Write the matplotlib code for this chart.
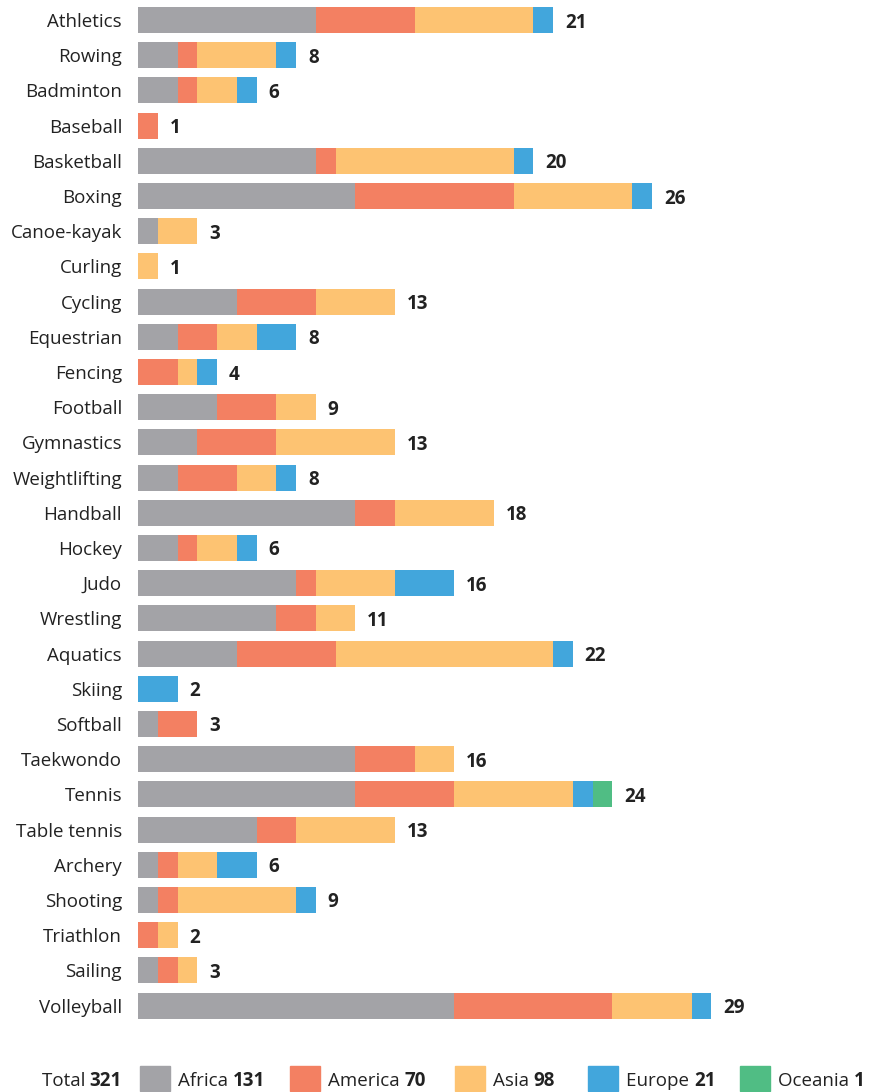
import matplotlib
matplotlib.use("Agg")
import matplotlib.pyplot as plt
from matplotlib.patches import Rectangle
import numpy as np

sports = ["Athletics", "Rowing", "Badminton", "Baseball", "Basketball", "Boxing",
          "Canoe-kayak", "Curling", "Cycling", "Equestrian", "Fencing", "Football",
          "Gymnastics", "Weightlifting", "Handball", "Hockey", "Judo", "Wrestling",
          "Aquatics", "Skiing", "Softball", "Taekwondo", "Tennis", "Table tennis",
          "Archery", "Shooting", "Triathlon", "Sailing", "Volleyball"]
africa  = [9, 2, 2, 0, 9, 11, 1, 0, 5, 2, 0, 4, 3, 2, 11, 2, 8, 7, 5, 0, 1, 11, 11, 6, 1, 1, 0, 1, 16]
america = [5, 1, 1, 1, 1, 8, 0, 0, 4, 2, 2, 3, 4, 3, 2, 1, 1, 2, 5, 0, 2, 3, 5, 2, 1, 1, 1, 1, 8]
asia    = [6, 4, 2, 0, 9, 6, 2, 1, 4, 2, 1, 2, 6, 2, 5, 2, 4, 2, 11, 0, 0, 2, 6, 5, 2, 6, 1, 1, 4]
europe  = [1, 1, 1, 0, 1, 1, 0, 0, 0, 2, 1, 0, 0, 1, 0, 1, 3, 0, 1, 2, 0, 0, 1, 0, 2, 1, 0, 0, 1]
oceania = [0, 0, 0, 0, 0, 0, 0, 0, 0, 0, 0, 0, 0, 0, 0, 0, 0, 0, 0, 0, 0, 0, 1, 0, 0, 0, 0, 0, 0]
regions = ["Africa", "America", "Asia", "Europe", "Oceania"]
colors = ["#a3a3a7", "#f38062", "#fdc372", "#42a6dc", "#50bd84"]

plt.rcParams['font.family'] = ['Open Sans', 'DejaVu Sans']
FS = 13.5
TXT = "#222222"

W, H = 877, 1092
fig = plt.figure(figsize=(W / 100, H / 100), dpi=100)
ax_left = 138 / W
unit = 19.77
xmax = (W - 138) / unit
top_px = 20 - 35.2 * 0.5
bot_px = 20 + 35.2 * 28.5
ax = fig.add_axes([ax_left, 1 - bot_px / H, 1 - ax_left, (bot_px - top_px) / H])

series = [africa, america, asia, europe, oceania]
y = np.arange(len(sports))
left = np.zeros(len(sports))
for vals, c in zip(series, colors):
    v = np.array(vals, dtype=float)
    ax.barh(y, v, left=left, height=0.74, color=c, edgecolor='none')
    left += v

for yi, tot in zip(y, left):
    ax.annotate(f"{int(tot)}", xy=(tot, yi), xytext=(8.5, 0), textcoords="offset points",
                va="center_baseline", ha="left", fontsize=FS, fontweight="bold", color=TXT)

ax.set_xlim(0, xmax)
ax.set_ylim(len(sports) - 0.5, -0.5)
ax.set_yticks(y)
ax.set_yticklabels(sports, fontsize=FS, color=TXT, va="center_baseline")
ax.tick_params(axis='y', length=0, pad=11.5)
ax.set_xticks([])
for s in ax.spines.values():
    s.set_visible(False)

# Legend row
fig.canvas.draw()
renderer = fig.canvas.get_renderer()
ly = 1 - 1079 / H

def two_part(x_px, normal, bold, ha="left"):
    t1 = fig.text(x_px / W, ly, normal + " ", fontsize=FS, color=TXT, va="center_baseline", ha="left")
    bb = t1.get_window_extent(renderer)
    t2 = fig.text(bb.x1 / W, ly, bold, fontsize=FS, fontweight="bold", color=TXT,
                  va="center_baseline", ha="left")
    bb2 = t2.get_window_extent(renderer)
    if ha == "right":
        shift = (x_px - bb2.x1)
        t1.set_x((x_px + shift) / W)
        t2.set_x((bb.x1 + shift) / W)

totals = [sum(s) for s in series]
two_part(122, "Total", str(sum(totals)), ha="right")
sq_x = [140, 290, 455, 588, 740]
for xs, name, tot, c in zip(sq_x, regions, totals, colors):
    fig.patches.append(Rectangle((xs / W, 1 - 1091 / H), 30 / W, 25 / H,
                                 transform=fig.transFigure, color=c, figure=fig))
    two_part(xs + 38, name, str(tot))

fig.savefig("out.png", dpi=100)
